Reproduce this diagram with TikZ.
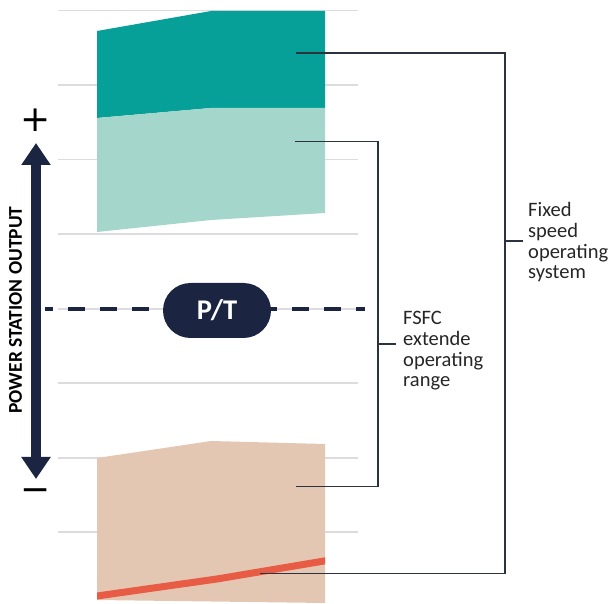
\documentclass[tikz,border=0pt]{standalone}
\usepackage{fontspec}
\setmainfont{Carlito}
\newfontfamily\symfont{DejaVu Sans}
\usetikzlibrary{arrows.meta}
\definecolor{navy}{HTML}{1B2541}
\definecolor{tealdark}{HTML}{06A099}
\definecolor{teallight}{HTML}{A5D6CB}
\definecolor{peach}{HTML}{E4C7B2}
\definecolor{redline}{HTML}{E85B45}
\definecolor{gridgray}{HTML}{DCDCE0}
\definecolor{leader}{HTML}{2B3340}
\tikzset{
  gridline/.style={draw=gridgray, line width=1.5pt},
  leaderline/.style={draw=leader, line width=1.2pt},
  label/.style={anchor=north west, inner sep=0pt, align=left, text=black!85,
    font=\fontsize{20.5}{20.8}\selectfont},
}
\begin{document}
\begin{tikzpicture}[x=1pt,y=-1pt]
\useasboundingbox (0,0) rectangle (614,604);
% grid
\foreach \yy in {10.5,85,159.5,234,309,383,458,532}
  \draw[gridline] (58,\yy) -- (358,\yy);
% shapes
\fill[tealdark] (97,31) -- (211,11) -- (325,11) -- (325,108) -- (211,108) -- (97,118) -- cycle;
\fill[teallight] (97,118) -- (211,108) -- (325,108) -- (325,213) -- (211,220) -- (97,232) -- cycle;
\begin{scope}
  \path[clip] (97,458) -- (211,441) -- (325,444) -- (325,603) -- (97,600) -- cycle;
  \fill[peach] (97,458) -- (211,441) -- (325,444) -- (325,603) -- (97,600) -- cycle;
  \draw[redline, line width=7pt] (90,597) -- (217,579) -- (330,560);
\end{scope}
% dashed centre line
\draw[navy, line width=4pt, dash pattern=on 17pt off 15pt, dash phase=9pt] (45,309) -- (365,309);
\node[fill=navy, rounded corners=27.5pt, minimum width=108pt, minimum height=55pt,
  text=white, font=\bfseries\fontsize{28.5}{28.5}\selectfont] (pt) at (217,310.5) {P/T};
% arrow
\coordinate (atop) at (36,143);
\coordinate (abot) at (36,479);
\draw[navy, line width=10pt, {Triangle[width=28pt,length=22pt]}-{Triangle[width=28pt,length=22pt]}] (atop) -- (abot);
\node[text=black, font=\symfont\fontsize{36}{36}\selectfont, inner sep=0pt] (plus) at (36,120) {+};
\node[text=black, font=\symfont\fontsize{36}{36}\selectfont, inner sep=0pt] (minus) at (36,495) {−};
\node[rotate=90, text=black, font=\bfseries\fontsize{19.5}{19.5}\selectfont, inner sep=0pt] (axis) at (15.5,310) {POWER STATION OUTPUT};
% labels
\node[label] (fixed) at (528,202) {Fixed\\speed\\operating\\system};
\node[label] (fsfc) at (403,311) {FSFC\\extende\\operating\\range};
% leader points
\coordinate (pdark) at (296,53);
\coordinate (plight) at (295,141.5);
\coordinate (ppeach) at (296,486.5);
\coordinate (pred) at (260,573.5);
\coordinate (jfixed) at (505,241);
\coordinate (jfsfc) at (378,344);
\draw[leaderline] (pdark) -- (pdark -| jfixed) -- (pred -| jfixed) -- (pred);
\draw[leaderline] (jfixed) -- ([xshift=-5pt]fixed.west |- jfixed);
\draw[leaderline] (plight) -- (plight -| jfsfc) -- (ppeach -| jfsfc) -- (ppeach);
\draw[leaderline] (jfsfc) -- ([xshift=-7pt]fsfc.west |- jfsfc);
\end{tikzpicture}
\end{document}
